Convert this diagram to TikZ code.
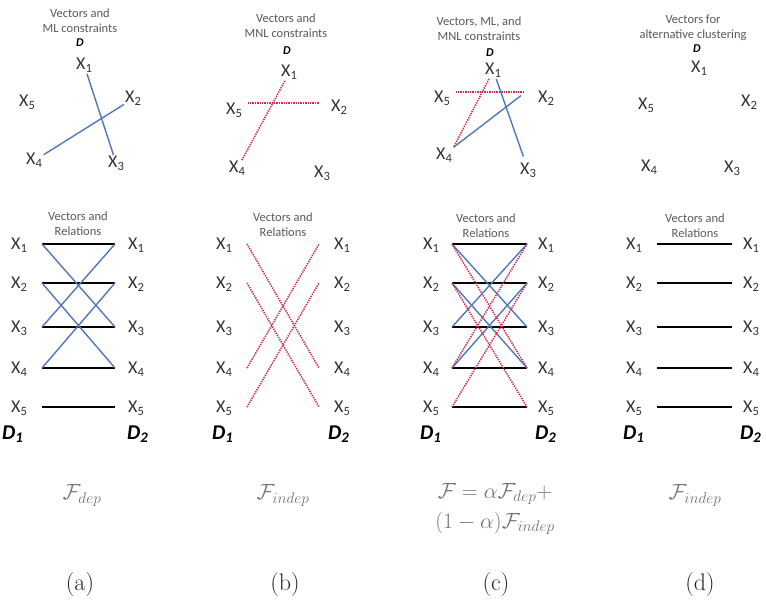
\RequirePackage{fix-cm}
\documentclass[tikz,border=0pt]{standalone}
\usepackage{amsmath,amssymb}
\usepackage{fontspec}
\newfontfamily\calfont{Carlito}
\usetikzlibrary{positioning, calc}
\definecolor{mlblue}{RGB}{80,120,185}
\definecolor{mnlred}{RGB}{205,45,85}

\begin{document}
\begin{tikzpicture}[x=1pt, y=-1pt,
    xl/.style={font=\calfont\fontsize{18}{20}\selectfont, text=black!80, anchor=base west, inner sep=1pt},
    dtop/.style={font=\calfont\bfseries\itshape\fontsize{12}{14}\selectfont, anchor=base, inner sep=0pt},
    dl/.style={font=\calfont\bfseries\itshape\fontsize{21}{24}\selectfont, anchor=base west, inner sep=0pt},
    ttl/.style={font=\calfont\fontsize{12.5}{15}\selectfont, text=black!65, align=center, inner sep=0pt},
    fml/.style={font=\fontsize{22}{30}\selectfont, text=black!55, align=center},
    sublbl/.style={font=\fontsize{24}{28}\selectfont, text=black!85, anchor=base},
    ml/.style={draw=mlblue, line width=1.4pt},
    mnl/.style={draw=mnlred, line width=1.6pt, dash pattern=on 1.3pt off 1.1pt},
    rel/.style={draw=black, line width=1.8pt}]
    \useasboundingbox (0,0) rectangle (766,601);

    % Titles
    \node[ttl] (hta) at (80,21) {Vectors and\\ML constraints};
    \node[ttl] (htb) at (286,26) {Vectors and\\MNL constraints};
    \node[ttl] (htc) at (479,29) {Vectors, ML, and\\MNL constraints};
    \node[ttl] (htd) at (693,28) {Vectors for\\alternative clustering};
    \node[dtop] (da) at (80,47) {D};
    \node[dtop] (db) at (287,55) {D};
    \node[dtop] (dc) at (490,57) {D};
    \node[dtop] (dd) at (697,53) {D};

    % Vectors (a)
    \node[xl] (ta1) at (75,70) {X\textsubscript{1}};
    \node[xl] (ta2) at (124,103) {X\textsubscript{2}};
    \node[xl] (ta3) at (107,168) {X\textsubscript{3}};
    \node[xl] (ta4) at (25,165) {X\textsubscript{4}};
    \node[xl] (ta5) at (18,107) {X\textsubscript{5}};
    \draw[ml] (ta1) -- (ta3);
    \draw[ml] (ta4) -- (ta2);

    % Vectors (b)
    \node[xl] (tb1) at (280,77) {X\textsubscript{1}};
    \node[xl] (tb2) at (330,112) {X\textsubscript{2}};
    \node[xl] (tb3) at (313,178) {X\textsubscript{3}};
    \node[xl] (tb4) at (228,173) {X\textsubscript{4}};
    \node[xl] (tb5) at (225,115) {X\textsubscript{5}};
    \draw[mnl] ($(tb5.north east)+(4,1)$) -- ($(tb5.north east -| tb2.west)+(-11,1)$);
    \draw[mnl] (tb1) -- (tb4);

    % Vectors (c)
    \node[xl] (tc1) at (484,75) {X\textsubscript{1}};
    \node[xl] (tc2) at (537,103) {X\textsubscript{2}};
    \node[xl] (tc3) at (519,175) {X\textsubscript{3}};
    \node[xl] (tc4) at (435,160) {X\textsubscript{4}};
    \node[xl] (tc5) at (433,103) {X\textsubscript{5}};
    \draw[mnl] ($(tc5.north east)+(4,2)$) -- ($(tc5.north east -| tc2.west)+(-14,2)$);
    \draw[mnl] (tc1) -- (tc4.north east);
    \draw[ml, shorten >=6pt] (tc1) -- (tc3);
    \draw[ml] (tc4.north east) -- ($(tc2.west)+(-16,-3)$);

    % Vectors (d)
    \node[xl] (td1) at (690,73) {X\textsubscript{1}};
    \node[xl] (td2) at (740,107) {X\textsubscript{2}};
    \node[xl] (td3) at (723,173) {X\textsubscript{3}};
    \node[xl] (td4) at (640,172) {X\textsubscript{4}};
    \node[xl] (td5) at (637,110) {X\textsubscript{5}};

    % Relations
    \node[ttl] (hba) at (78,224) {Vectors and\\Relations};
    \node[ttl] (hbb) at (283,225) {Vectors and\\Relations};
    \node[ttl] (hbc) at (486,226) {Vectors and\\Relations};
    \node[ttl] (hbd) at (695,226) {Vectors and\\Relations};
    \foreach \i/\y in {1/244,2/283,3/327,4/368,5/407} {
        \node[xl] (la\i) at (10,\y+6) {X\textsubscript{\i}};
        \node[xl] (ra\i) at (127,\y+6) {X\textsubscript{\i}};
        \coordinate (sa\i) at (42,\y);
        \coordinate (ea\i) at (115,\y);
        \node[xl] (lb\i) at (215,\y+6) {X\textsubscript{\i}};
        \node[xl] (rb\i) at (333,\y+6) {X\textsubscript{\i}};
        \coordinate (sb\i) at (247,\y);
        \coordinate (eb\i) at (319,\y);
        \node[xl] (lc\i) at (422,\y+6) {X\textsubscript{\i}};
        \node[xl] (rc\i) at (537,\y+6) {X\textsubscript{\i}};
        \coordinate (sc\i) at (452,\y);
        \coordinate (ec\i) at (527,\y);
        \node[xl] (ld\i) at (625,\y+6) {X\textsubscript{\i}};
        \node[xl] (rd\i) at (742,\y+6) {X\textsubscript{\i}};
        \coordinate (sd\i) at (657,\y);
        \coordinate (ed\i) at (732,\y);
    }

    % (a)
    \foreach \i in {1,...,5} \draw[rel] (sa\i) -- (ea\i);
    \draw[ml] (sa1) -- (ea3);
    \draw[ml] (sa2) -- (ea4);
    \draw[ml] (sa3) -- (ea1);
    \draw[ml] (sa4) -- (ea2);

    % (b)
    \draw[mnl] (sb1) -- (eb4);
    \draw[mnl] (sb2) -- (eb5);
    \draw[mnl] (sb4) -- (eb1);
    \draw[mnl] (sb5) -- (eb2);

    % (c)
    \foreach \i in {1,...,5} \draw[rel] (sc\i) -- (ec\i);
    \draw[ml] (sc1) -- (ec3);
    \draw[ml] (sc2) -- (ec4);
    \draw[ml] (sc3) -- (ec1);
    \draw[ml] (sc4) -- (ec2);
    \draw[mnl] (sc1) -- (ec4);
    \draw[mnl] (sc2) -- (ec5);
    \draw[mnl] (sc4) -- (ec1);
    \draw[mnl] (sc5) -- (ec2);

    % (d)
    \foreach \i in {1,...,5} \draw[rel] (sd\i) -- (ed\i);

    % Datasets
    \node[dl] (dla) at (2,439) {D\textsubscript{1}};
    \node[dl] (dra) at (127,439) {D\textsubscript{2}};
    \node[dl] (dlb) at (212,439) {D\textsubscript{1}};
    \node[dl] (drb) at (328,439) {D\textsubscript{2}};
    \node[dl] (dlc) at (420,439) {D\textsubscript{1}};
    \node[dl] (drc) at (535,439) {D\textsubscript{2}};
    \node[dl] (dld) at (623,439) {D\textsubscript{1}};
    \node[dl] (drd) at (740,439) {D\textsubscript{2}};

    % Objectives
    \node[fml, anchor=base] (fa) at (82,500) {$\mathcal{F}_{dep}$};
    \node[fml, anchor=base] (fb) at (283,500) {$\mathcal{F}_{indep}$};
    \node[fml] (fc) at (495,509) {$\mathcal{F}=\alpha\mathcal{F}_{dep}+$\\$(1-\alpha)\mathcal{F}_{indep}$};
    \node[fml, anchor=base] (fd) at (695,500) {$\mathcal{F}_{indep}$};
    \node[sublbl] (ca) at (80,590) {(a)};
    \node[sublbl] (cb) at (285,590) {(b)};
    \node[sublbl] (cc) at (496,590) {(c)};
    \node[sublbl] (cd) at (700,590) {(d)};
\end{tikzpicture}
\end{document}
